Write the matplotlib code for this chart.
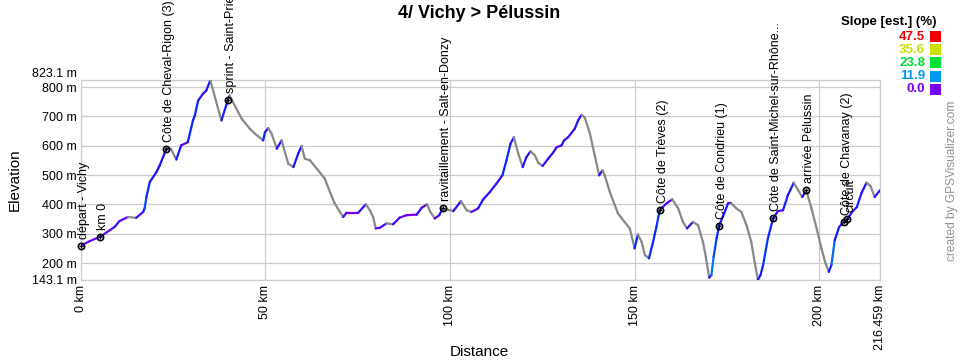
import numpy as np
import matplotlib
matplotlib.use("Agg")
import matplotlib.pyplot as plt
from matplotlib.collections import LineCollection
from matplotlib.colors import LinearSegmentedColormap

plt.rcParams['font.family'] = ['Liberation Sans', 'DejaVu Sans']

# ---- data ----
distance_km = [
    0.0, 2.5, 5.3, 9.2, 10.5, 12.8, 15.0, 16.9, 17.3, 17.8, 18.7, 20.5, 21.4, 22.3, 23.2,
    24.4, 25.9, 27.2, 29.0, 30.4, 30.9, 31.8, 33.1, 34.0, 35.1, 38.1, 39.9, 40.3, 43.6,
    45.8, 47.2, 49.4, 49.9, 50.8, 51.7, 53.1, 54.4, 56.2, 57.6, 58.9, 59.8, 60.7, 62.1,
    64.3, 66.1, 67.5, 68.8, 70.2, 71.1, 72.0, 75.2, 77.2, 78.3, 79.2, 79.9, 81.0, 82.8,
    84.6, 86.4, 88.2, 91.0, 92.3, 93.8, 94.7, 95.9, 97.1, 98.0, 100.0, 100.9, 103.0,
    104.5, 105.8, 107.6, 109.0, 110.8, 112.6, 114.2, 115.3, 116.4, 117.3, 118.5, 119.7,
    120.7, 121.8, 123.0, 123.9, 125.1, 126.6, 127.9, 128.9, 130.2, 130.9, 132.0, 133.8,
    134.7, 135.6, 136.5, 137.9, 139.2, 140.4, 141.3, 141.9, 143.3, 145.5, 147.3, 148.7,
    150.0, 150.9, 151.9, 152.8, 153.9, 155.0, 155.9, 156.8, 158.6, 160.2, 161.8, 163.1,
    164.2, 165.8, 167.2, 168.5, 169.3, 170.2, 170.8, 171.4, 172.2, 172.9, 174.4, 175.3,
    176.2, 177.6, 178.9, 180.3, 181.6, 182.5, 183.4, 184.1, 184.8, 186.1, 187.5, 188.8,
    190.2, 191.5, 193.1, 194.3, 195.4, 196.5, 197.9, 199.2, 200.6, 201.7, 202.6, 203.3,
    204.2, 205.4, 206.6, 207.6, 208.9, 210.2, 211.4, 212.8, 213.9, 215.0, 216.459,
]
elevation_m = [
    259, 275, 290, 323, 343, 357, 354, 374, 386, 425, 476, 510, 533, 561, 590,
    590, 553, 601, 612, 686, 703, 754, 777, 788, 823.1, 686, 757, 771, 692,
    658, 641, 618, 646, 660, 641, 590, 618, 539, 527, 573, 599, 556, 550,
    516, 488, 442, 403, 374, 357, 372, 372, 400, 380, 357, 318, 320, 335,
    332, 355, 363, 365, 388, 400, 374, 352, 363, 386, 380, 377, 411,
    380, 374, 386, 417, 442, 471, 499, 550, 607, 629, 573, 527,
    561, 581, 567, 542, 531, 556, 576, 595, 601, 618, 629, 658,
    686, 705, 697, 641, 567, 499, 516, 499, 442, 369, 340, 318,
    250, 297, 272, 227, 216, 272, 323, 380, 403, 417, 386, 340,
    318, 340, 329, 272, 221, 150, 159, 221, 284, 327, 374, 403,
    403, 386, 374, 329, 272, 204, 143.1, 159, 193, 284, 352, 377,
    380, 431, 474, 448, 425, 448, 386, 323, 250, 199, 170, 193,
    278, 323, 340, 349, 374, 391, 437, 474, 462, 425, 448,
]

waypoint_names = [
    "départ - Vichy", "km 0", "Côte de Cheval-Rigon (3)", "sprint - Saint-Prie",
    "ravitaillement - Salt-en-Donzy", "Côte de Trèves (2)", "Côte de Condrieu (1)",
    "Côte de Saint-Michel-sur-Rhône...", "arrivée Pélussin", "Côte de Chavanay (2)", "circuit",
]
waypoint_km = [0.0, 5.3, 23.2, 39.9, 98.0, 156.8, 172.9, 187.5, 196.5, 206.6, 207.6]

y_ticks = [143.1, 200, 300, 400, 500, 600, 700, 800, 823.1]
y_tick_labels = ["143.1 m", "200 m", "300 m", "400 m", "500 m", "600 m", "700 m", "800 m", "823.1 m"]
x_ticks = [0, 50, 100, 150, 200, 216.459]
x_tick_labels = ["0 km", "50 km", "100 km", "150 km", "200 km", "216.459 km"]

slope_legend_values = [47.5, 35.6, 23.8, 11.9, 0.0]
slope_legend_colors = ["#ee0000", "#ccdd00", "#00dd33", "#0099ee", "#7700ee"]

# ---- figure ----
W, H = 960, 360
fig = plt.figure(figsize=(W / 100, H / 100), dpi=100)
ax_l, ax_r, ax_t, ax_b = 80.7, 880.0, 80.3, 279.7
ax = fig.add_axes([ax_l / W, 1 - ax_b / H, (ax_r - ax_l) / W, (ax_b - ax_t) / H])

d = np.array(distance_km, dtype=float)
e = np.array(elevation_m, dtype=float)

cmap = LinearSegmentedColormap.from_list(
    "slope",
    [(0.0, "#7700ee"), (0.04, "#2010ff"), (0.14, "#0030ff"), (0.25, "#0099ee"),
     (0.5, "#00dd33"), (0.75, "#ccdd00"), (1.0, "#ee0000")])
segs = []
cols = []
for i in range(len(d) - 1):
    segs.append([(d[i], e[i]), (d[i + 1], e[i + 1])])
    slope = (e[i + 1] - e[i]) / ((d[i + 1] - d[i]) * 1000) * 100
    if slope < 0:
        cols.append("#888888")
    else:
        cols.append(cmap(min(slope / 47.5, 1.0)))
lc = LineCollection(segs, colors=cols, linewidths=1.6, capstyle='round', zorder=3)
ax.add_collection(lc)

ax.set_xlim(0, 216.459)
ax.set_ylim(143.1, 823.1)
ax.set_yticks(y_ticks)
ax.set_yticklabels(y_tick_labels)
ax.set_xticks(x_ticks)
ax.set_xticklabels(x_tick_labels, rotation=90)
ax.tick_params(axis='both', length=0, labelsize=9)
ax.tick_params(axis='y', pad=3)
ax.tick_params(axis='x', pad=3.5)
ax.get_yticklabels()[-1].set_verticalalignment('bottom')
ax.grid(True, color="#cccccc", linewidth=0.9, zorder=0)
ax.set_axisbelow(True)
for sp in ax.spines.values():
    sp.set_color("#cccccc")
    sp.set_linewidth(0.9)

# waypoints
wp_e = np.interp(waypoint_km, d, e)
ax.plot(waypoint_km, wp_e, linestyle='none', marker='o', ms=4.5, mfc='none',
        mec='black', mew=1.2, zorder=5, clip_on=False)
ax.plot(waypoint_km, wp_e, linestyle='none', marker='+', ms=3, mec='black',
        mew=0.8, zorder=5, clip_on=False)
for name, x, y in zip(waypoint_names, waypoint_km, wp_e):
    ax.annotate(name, (x, y), xytext=(3, 7), textcoords='offset pixels',
                rotation=90, ha='center', va='bottom', fontsize=9,
                color='black', annotation_clip=False, zorder=6)

# titles and labels
fig.text(479 / W, 1 - 13 / H, "4/ Vichy > Pélussin", ha='center', va='center',
         fontsize=13, fontweight='bold')
fig.text(15 / W, 1 - 180 / H, "Elevation", rotation=90, ha='center', va='center', fontsize=11)
fig.text(479.5 / W, 1 - 352 / H, "Distance", ha='center', va='center', fontsize=11)
fig.text(952 / W, 1 - 181 / H, "created by GPSVisualizer.com", rotation=90,
         ha='center', va='center', fontsize=8.6, color="#909090")

# slope legend
fig.text(889 / W, 1 - 22 / H, "Slope [est.] (%)", ha='center', va='center',
         fontsize=9.5, fontweight='bold')
for i, (v, c) in enumerate(zip(slope_legend_values, slope_legend_colors)):
    yc = 36.5 + i * 13.2
    fig.text(925 / W, 1 - yc / H, f"{v:.1f}", ha='right', va='center',
             fontsize=9.5, fontweight='bold', color=c)
    fig.patches.append(plt.Rectangle((930 / W, 1 - (yc + 5.5) / H), 11 / W, 11 / H,
                                     transform=fig.transFigure, facecolor=c,
                                     edgecolor='none', figure=fig))

fig.savefig("out.png", dpi=100)
